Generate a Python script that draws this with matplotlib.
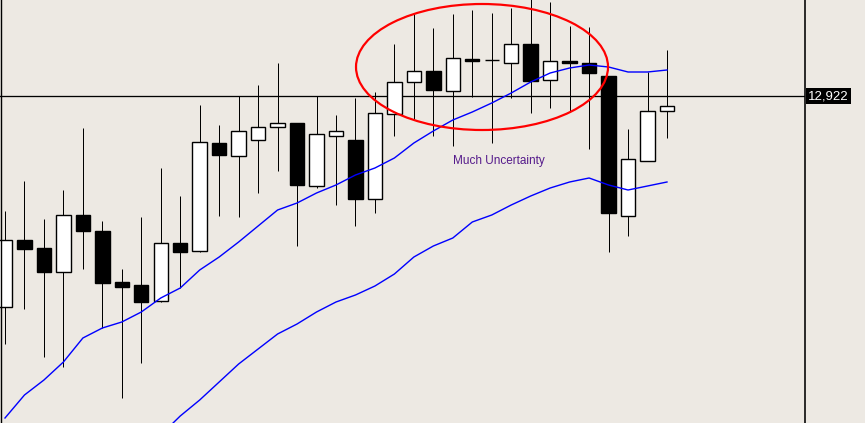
import numpy as np
import matplotlib
matplotlib.use('Agg')
import matplotlib.pyplot as plt
from matplotlib.patches import Rectangle, Ellipse
from matplotlib.lines import Line2D

plt.rcParams['font.family'] = ['Liberation Sans', 'DejaVu Sans']

# daily candles (open, high, low, close)
opens = [12500, 12634, 12618, 12570, 12684, 12652, 12550, 12544, 12512, 12628,
         12612, 12828, 12802, 12834, 12860, 12868, 12742, 12842, 12834, 12716,
         12886, 12950, 12972, 12932, 12996, 12994, 12988, 13026, 12954, 12992,
         12988, 12962, 12682, 12792, 12892]
highs = [12692, 12752, 12676, 12734, 12858, 12672, 12576, 12680, 12778, 12722,
         12904, 12864, 12922, 12944, 12988, 12868, 12922, 12884, 12918, 12930,
         13026, 13088, 13058, 13086, 13094, 13088, 13098, 13118, 13110, 13062,
         13060, 12962, 12856, 12970, 13014]
lows = [12426, 12496, 12400, 12380, 12576, 12458, 12318, 12388, 12510, 12538,
        12610, 12682, 12680, 12728, 12772, 12622, 12738, 12704, 12662, 12688,
        12842, 12876, 12842, 12822, 12920, 12828, 12918, 12888, 12898, 12890,
        12816, 12610, 12642, 12792, 12838]
closes = [12634, 12616, 12570, 12684, 12652, 12548, 12540, 12510, 12628, 12610,
          12830, 12804, 12852, 12860, 12868, 12744, 12846, 12852, 12716, 12888,
          12950, 12972, 12934, 12998, 12992, 12994, 13026, 12952, 12992, 12988,
          12968, 12688, 12796, 12892, 12902]

ma_fast = [12278, 12324, 12354, 12390, 12438, 12458, 12470, 12490, 12518, 12538,
           12574, 12600, 12630, 12662, 12694, 12708, 12728, 12744, 12764, 12778,
           12798, 12828, 12852, 12874, 12890, 12908, 12928, 12950, 12968, 12978,
           12984, 12980, 12970, 12970, 12974]
ma_slow = [np.nan] * 8 + [12244, 12282, 12314, 12350, 12386, 12416, 12446, 12466,
           12490, 12510, 12524, 12542, 12566, 12600, 12622, 12638, 12670, 12684,
           12704, 12722, 12738, 12750, 12758, 12744, 12734, 12742, 12750]

last_price = 12922
note = 'Much Uncertainty'

W, H = 865, 423
bg = '#ede9e3'
fig = plt.figure(figsize=(W / 100, H / 100), dpi=100, facecolor=bg)
plot_w = 805
ax = fig.add_axes([0, 0, plot_w / W, 1])
ax.set_facecolor(bg)
ax.axis('off')

step = 19.47  # px per candle
ax.set_xlim(-5 / step, (plot_w - 5) / step)
ax.set_ylim(13114 - 2 * H, 13114)

px = 0.72  # one pixel in points
bw = 0.74
x = np.arange(len(opens))
for i in x:
    o, h, l, c = opens[i], highs[i], lows[i], closes[i]
    ax.plot([i, i], [l, h], color='black', lw=px, solid_capstyle='butt', zorder=2)
    face = 'white' if c > o else 'black'
    lo = min(o, c)
    ax.add_patch(Rectangle((i - bw / 2, lo), bw, abs(c - o), facecolor=face,
                           edgecolor='black', lw=px * 1.4, zorder=3))

ax.plot(x, ma_fast, color='#0000ff', lw=px * 1.4, zorder=4)
ax.plot(x, ma_slow, color='#0000ff', lw=px * 1.4, zorder=4)

ax.axhline(last_price, color='black', lw=px * 1.3, zorder=1)

ax.add_patch(Ellipse((24.5, 12980), 252 / step, 252, fill=False,
                     edgecolor='#ff0000', lw=px * 2.2, zorder=5))
ax.text(23.0, 12792, note, fontsize=8.5, color='#551a8b', ha='left', va='center')

# separators
fig.add_artist(Line2D([plot_w / W, plot_w / W], [0, 1], color='black', lw=px * 1.6))
fig.add_artist(Line2D([0.6 / W, 0.6 / W], [0, 1], color='black', lw=px * 1.4))

ax.text(1.0 + 3 / plot_w, last_price, f'{last_price:,}', transform=ax.get_yaxis_transform(),
        fontsize=9.5, color='white', ha='left', va='center',
        bbox=dict(boxstyle='square,pad=0.15', facecolor='black', edgecolor='none'),
        clip_on=False)

fig.savefig('out.png', dpi=100, facecolor=bg)
